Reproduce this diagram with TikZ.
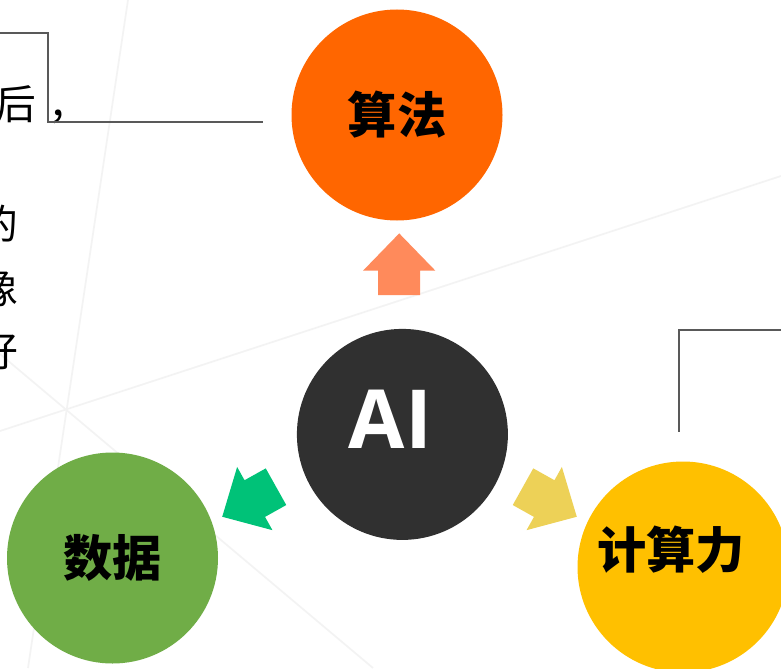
\documentclass[tikz,border=0pt]{standalone}
\usepackage{fontspec}
\newfontfamily\cjk{Noto Sans CJK SC}
\newfontfamily\aifont{Open Sans}
\definecolor{algo}{HTML}{FF6600}
\definecolor{aidark}{HTML}{303030}
\definecolor{datagreen}{HTML}{70AD47}
\definecolor{compute}{HTML}{FFC000}
\definecolor{arroworange}{HTML}{FF8A5B}
\definecolor{arrowgreen}{HTML}{00C278}
\definecolor{arrowyellow}{HTML}{EDD157}
\definecolor{linegray}{HTML}{595959}
\definecolor{bggray}{HTML}{F3F3F3}

\tikzset{
  ball/.style={circle,minimum size=5.275cm,inner sep=0pt},
  bigword/.style={font=\cjk\bfseries\fontsize{35}{40}\selectfont},
  sideword/.style={font=\cjk\fontsize{29}{40}\selectfont,inner sep=0pt},
  callout/.style={draw=linegray,line width=1.1pt},
  bgline/.style={draw=bggray,line width=1.2pt},
  blockarrow/.pic={
    \path[pic actions] (-0.525,0) -- (0.525,0) -- (0.525,0.6075) -- (0.905,0.6075)
      -- (0,1.54) -- (-0.905,0.6075) -- (-0.525,0.6075) -- cycle;
  }
}

\begin{document}
\begin{tikzpicture}
\useasboundingbox[fill=white] (0,0) rectangle (19.525,16.7);

% faint background lines
\draw[bgline] (0,5.925) -- (19.525,12.3);
\draw[bgline] (3.2,16.7) -- (0.7,0);
\draw[bgline] (0,7.85) -- (9.325,0);

% left text, cut by the page edge
\node[sideword,anchor=base west] (txt-1) at (-0.125,13.72) {后\kern.3em，};
\node[sideword,anchor=east] (txt-2) at (0.475,11.1) {的};
\node[sideword,anchor=east] (txt-3) at (0.475,9.5) {像};
\node[sideword,anchor=east] (txt-4) at (0.475,7.925) {好};

% circles
\node[ball,fill=algo,bigword] (algo) at (9.925,13.825) {算法};
\node[ball,fill=aidark] (ai) at (10.06,5.84) {};
\node[ball,fill=datagreen,bigword] (data) at (2.8125,2.75) {数据};
\node[ball,fill=compute] (comp) at (17.075,2.525) {};

\node[font=\aifont\bfseries\fontsize{58}{66}\selectfont,text=white]
     (ai-txt) at ([shift={(-0.3,0.38)}]ai.center) {AI};
\node[bigword] (comp-txt) at ([shift={(-0.3,0.425)}]comp.center) {计算力};

% block arrows out of AI
\pic[fill=arroworange] (up) at (9.98,9.325) {blockarrow};
\pic[fill=arrowgreen,rotate=119.2] (left) at (6.9,4.5325) {blockarrow};
\pic[fill=arrowyellow,rotate=-119.2] (right) at (13.075,4.5325) {blockarrow};

% callout lines
\coordinate (c1-a) at (0,15.875);
\coordinate (c1-b) at (1.2,13.65);
\coordinate (c1-c) at (6.575,13.65);
\draw[callout] (c1-a) -| (c1-b) -- (c1-c);
\coordinate (c2-a) at (19.525,8.45);
\coordinate (c2-b) at (16.975,5.9);
\draw[callout] (c2-a) -| (c2-b);
\end{tikzpicture}
\end{document}
